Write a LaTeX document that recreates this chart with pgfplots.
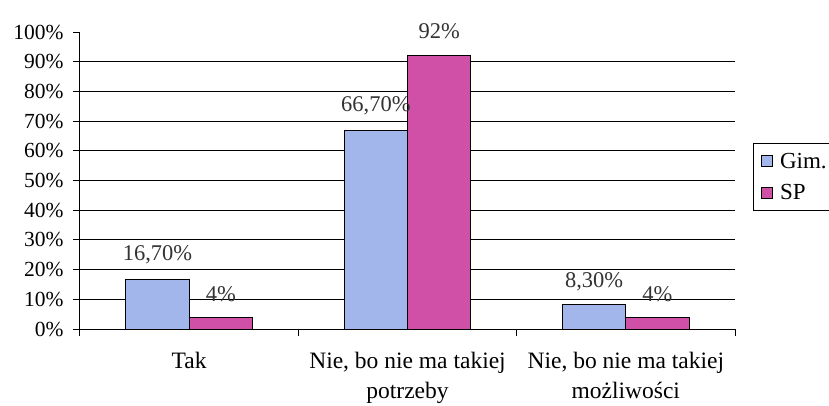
\documentclass[border=0pt]{standalone}
\usepackage{fontspec}
\setmainfont{Liberation Serif}
\usepackage{pgfplots}
\pgfplotsset{compat=1.18}
\definecolor{gimblue}{RGB}{162,182,236}
\definecolor{sppink}{RGB}{208,80,168}
\begin{document}
\begin{tikzpicture}
\useasboundingbox (-80pt,-76pt) rectangle (749pt,329pt);
\begin{axis}[
  at={(0pt,0pt)}, anchor=south west,
  scale only axis, width=655pt, height=297pt,
  xmin=-0.5, xmax=2.5, ymin=0, ymax=100,
  clip=false,
  axis x line=bottom, axis y line=left,
  axis line style={-, line width=1pt},
  tick align=outside, major tick length=7pt,
  every tick/.style={black, line width=1pt},
  xtick={-0.5,0.5,1.5,2.5}, xticklabels={,,,},
  extra x ticks={0,1,2},
  extra x tick labels={Tak,{Nie, bo nie ma takiej\\potrzeby},{Nie, bo nie ma takiej\\możliwości}},
  extra x tick style={major tick length=0pt, grid=none,
     tick label style={align=center, font=\fontsize{23.5pt}{29.5pt}\selectfont, yshift=-20pt}},
  ytick={0,10,...,90},
  extra y ticks={100},
  extra y tick style={grid=none},
  ymajorgrids,
  grid style={black, line width=1pt},
  yticklabel={\pgfmathprintnumber{\tick}\%},
  /pgf/number format/assume math mode=true,
  yticklabel style={font=\fontsize{21.5pt}{24pt}\selectfont, xshift=-6pt},
  legend style={at={(1.0275,0.625)}, anchor=north west, draw=black, line width=1pt,
     font=\fontsize{23pt}{26pt}\selectfont, inner xsep=7pt, inner ysep=7pt,
     row sep=11pt, legend cell align=left},
]
\addplot[ybar, bar width=0.29, bar shift=-0.145, fill=gimblue, draw=black, line width=1pt,
  legend image code/.code={\draw[fill=gimblue,draw=black,line width=1pt] (0pt,-5.5pt) rectangle (11pt,5.5pt);\path[draw=none,fill=none] (0pt,0pt) -- (17pt,0pt);}]
  coordinates {(0,16.7) (1,66.7) (2,8.3)};
\addlegendentry{Gim.}
\addplot[ybar, bar width=0.29, bar shift=0.145, fill=sppink, draw=black, line width=1pt,
  legend image code/.code={\draw[fill=sppink,draw=black,line width=1pt] (0pt,-5.5pt) rectangle (11pt,5.5pt);\path[draw=none,fill=none] (0pt,0pt) -- (17pt,0pt);}]
  coordinates {(0,4) (1,92) (2,4)};
\addlegendentry{SP}
\addplot[only marks, mark=none, forget plot, nodes near coords, point meta=explicit symbolic,
  nodes near coords style={anchor=center, font=\fontsize{22.5pt}{26pt}\selectfont, text=black!80}]
  coordinates {(-0.145,24.9) [16,70\%] (0.855,75.2) [66,70\%] (1.855,15.8) [8,30\%]
               (0.145,11.6) [4\%] (1.145,100.2) [92\%] (2.145,11.8) [4\%]};
\end{axis}
\end{tikzpicture}
\end{document}
